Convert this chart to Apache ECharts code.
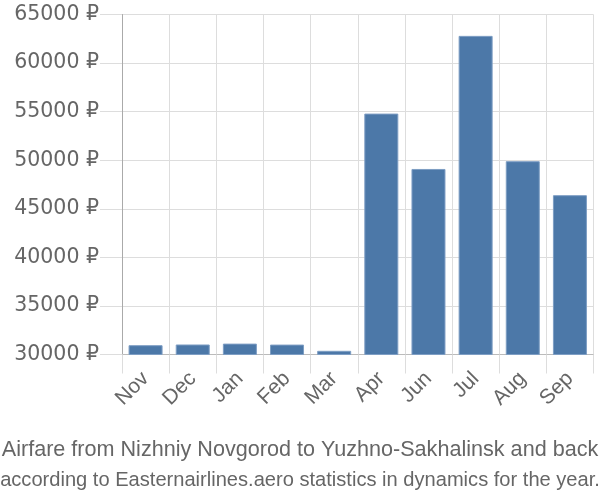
<!DOCTYPE html>
<html><head><meta charset="utf-8">
<script src="https://cdn.jsdelivr.net/npm/echarts@6/dist/echarts.min.js"></script>
<style>html,body{margin:0;padding:0;background:#fff}#c{width:600px;height:500px}</style>
</head><body><div id="c"></div>
<script>
var categories = ['Nov','Dec','Jan','Feb','Mar','Apr','Jun','Jul','Aug','Sep'];
var prices = [30960, 31030, 31120, 31020, 30380, 54800, 49100, 62800, 49900, 46400];
var yTicks = [30000, 35000, 40000, 45000, 50000, 55000, 60000, 65000];
var titleLines = ['Airfare from Nizhniy Novgorod to Yuzhno-Sakhalinsk and back', 'according to Easternairlines.aero statistics in dynamics for the year.'];

var chart = echarts.init(document.getElementById('c'));
chart.setOption({
  animation: false,
  title: [{
    text: titleLines[0],
    left: 'center', top: 434,
    textStyle: {fontFamily: 'Liberation Sans', fontSize: 21.6, fontWeight: 'normal', color: '#666'}
  }, {
    text: titleLines[1],
    left: 'center', top: 465,
    textStyle: {fontFamily: 'Liberation Sans', fontSize: 20.1, fontWeight: 'normal', color: '#666'}
  }],
  grid: {left: 122, right: 6.5, top: 14.5, bottom: 145.5, containLabel: false},
  xAxis: {
    type: 'category', data: categories,
    axisLine: {show: true, lineStyle: {color: '#bbb', width: 1}},
    axisTick: {show: true, length: 19, interval: 0, lineStyle: {color: '#ddd'}},
    splitLine: {show: true, interval: 0, lineStyle: {color: '#ddd'}},
    axisLabel: {rotate: 45, interval: 0, margin: 21, fontFamily: 'Liberation Sans', fontSize: 21, color: '#666'}
  },
  yAxis: {
    type: 'value', min: yTicks[0], max: yTicks[yTicks.length - 1], interval: 5000,
    axisLine: {show: true, lineStyle: {color: '#aaa', width: 1}},
    axisTick: {show: true, length: 22, lineStyle: {color: '#ddd'}},
    splitLine: {show: true, lineStyle: {color: '#ddd'}},
    axisLabel: {margin: 23, fontFamily: 'DejaVu Sans', fontSize: 20.5, color: '#666', formatter: function (v) { return v + ' ₽'; }}
  },
  series: [{
    type: 'bar', data: prices, barWidth: 34,
    itemStyle: {color: '#4c78a8', borderColor: '#7e9ec4', borderWidth: 1}
  }]
});
</script></body></html>
